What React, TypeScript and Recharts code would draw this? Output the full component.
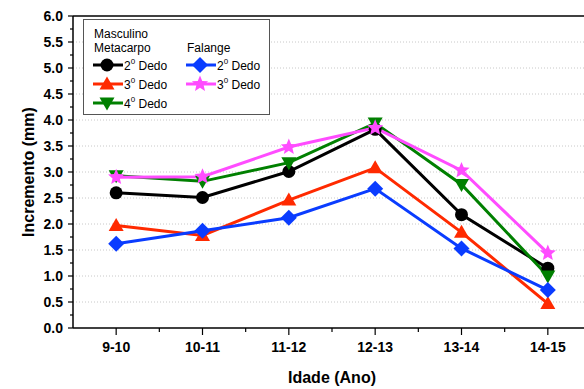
import React from "react";
import {
  LineChart,
  Line,
  XAxis,
  YAxis,
  CartesianGrid,
  ReferenceLine,
  Label
} from "recharts";

const ageGroups = ["9-10", "10-11", "11-12", "12-13", "13-14", "14-15"];
const metacarpo2 = [2.6, 2.51, 3.01, 3.82, 2.18, 1.15];
const metacarpo3 = [1.97, 1.78, 2.46, 3.08, 1.84, 0.47];
const metacarpo4 = [2.93, 2.82, 3.18, 3.94, 2.76, 1.0];
const falange2 = [1.62, 1.87, 2.12, 2.68, 1.53, 0.73];
const falange3 = [2.9, 2.91, 3.48, 3.85, 3.03, 1.44];

const yTicks = [0, 0.25, 0.5, 0.75, 1, 1.25, 1.5, 1.75, 2, 2.25, 2.5, 2.75, 3, 3.25, 3.5, 3.75, 4, 4.25, 4.5, 4.75, 5, 5.25, 5.5, 5.75, 6];
const gridValues = [0.5, 1, 1.5, 2, 2.5, 3, 3.5, 4, 4.5, 5, 5.5];
const xTicks = [1, 1.5, 2, 2.5, 3, 3.5, 4, 4.5, 5, 5.5, 6];

const data = ageGroups.map((g, i) => ({
  x: i + 1,
  idade: g,
  m2: metacarpo2[i],
  m3: metacarpo3[i],
  m4: metacarpo4[i],
  f2: falange2[i],
  f3: falange3[i]
}));

const FONT = "Arial, 'Liberation Sans', sans-serif";

const BLACK = "#000000";
const RED = "#ff2a00";
const GREEN = "#008000";
const BLUE = "#0a3cff";
const MAGENTA = "#ff4cff";

type Kind = "circle" | "up" | "down" | "diamond" | "star";

const starPath = (cx: number, cy: number, r: number) => {
  const pts: string[] = [];
  for (let i = 0; i < 10; i++) {
    const rad = i % 2 === 0 ? r : r * 0.45;
    const a = -Math.PI / 2 + (i * Math.PI) / 5;
    pts.push(`${cx + rad * Math.cos(a)},${cy + rad * Math.sin(a)}`);
  }
  return `M${pts.join("L")}Z`;
};

const Marker = ({ cx, cy, kind, color }: { cx: number; cy: number; kind: Kind; color: string }) => {
  if (kind === "circle") return <circle cx={cx} cy={cy} r={6.5} fill={color} />;
  if (kind === "up")
    return <path d={`M${cx},${cy - 7.5}L${cx + 7.5},${cy + 5.5}L${cx - 7.5},${cy + 5.5}Z`} fill={color} />;
  if (kind === "down")
    return <path d={`M${cx},${cy + 7.5}L${cx + 7.5},${cy - 5.5}L${cx - 7.5},${cy - 5.5}Z`} fill={color} />;
  if (kind === "diamond")
    return <path d={`M${cx},${cy - 8}L${cx + 8},${cy}L${cx},${cy + 8}L${cx - 8},${cy}Z`} fill={color} />;
  return <path d={starPath(cx, cy, 8.5)} fill={color} />;
};

const dotFor = (kind: Kind, color: string) => (p: any) => (
  <Marker key={`${kind}-${p.index}`} cx={p.cx} cy={p.cy} kind={kind} color={color} />
);

const YTick = (props: any) => {
  const { x, y, payload } = props;
  const major = Math.round(payload.value * 100) % 50 === 0;
  return (
    <g>
      <line x1={x - (major ? 5 : 3)} x2={x} y1={y} y2={y} stroke="#000" strokeWidth={1.2} />
      {major && (
        <text x={x - 10} y={y} dy={5} textAnchor="end" fontSize={14} fontWeight="bold" fontFamily={FONT} fill="#000">
          {payload.value.toFixed(1)}
        </text>
      )}
    </g>
  );
};

const XTick = (props: any) => {
  const { x, y, payload } = props;
  const major = Number.isInteger(payload.value);
  return (
    <g>
      <line x1={x} x2={x} y1={y} y2={y + (major ? 7 : 4)} stroke="#000" strokeWidth={1.2} />
      {major && (
        <text x={x} y={y + 24} textAnchor="middle" fontSize={14} fontWeight="bold" fontFamily={FONT} fill="#000">
          {ageGroups[payload.value - 1]}
        </text>
      )}
    </g>
  );
};

const Sup = ({ n }: { n: string }) => (
  <>
    {n}
    <tspan fontSize={8} dy={-6}>0</tspan>
    <tspan dy={6}> Dedo</tspan>
  </>
);

const legendLeft = [
  { label: "2", kind: "circle" as Kind, color: BLACK },
  { label: "3", kind: "up" as Kind, color: RED },
  { label: "4", kind: "down" as Kind, color: GREEN }
];
const legendRight = [
  { label: "2", kind: "diamond" as Kind, color: BLUE },
  { label: "3", kind: "star" as Kind, color: MAGENTA }
];

const LegendBox = () => (
  <svg width={188} height={97} style={{ display: "block" }}>
    <rect x={0.5} y={0.5} width={186} height={95} fill="#fff" stroke="#555" strokeWidth={1} />
    <g fontFamily={FONT} fontSize={12} fill="#000">
      <text x={11} y={19}>Masculino</text>
      <text x={11} y={33}>Metacarpo</text>
      <text x={104} y={33}>Falange</text>
      {legendLeft.map((it, i) => (
        <g key={`l${i}`}>
          <line x1={10} x2={40} y1={46 + i * 19} y2={46 + i * 19} stroke={it.color} strokeWidth={3} />
          <Marker cx={24} cy={46 + i * 19} kind={it.kind} color={it.color} />
          <text x={41} y={51 + i * 19}>
            <Sup n={it.label} />
          </text>
        </g>
      ))}
      {legendRight.map((it, i) => (
        <g key={`r${i}`}>
          <line x1={103} x2={133} y1={46 + i * 19} y2={46 + i * 19} stroke={it.color} strokeWidth={3} />
          <Marker cx={117} cy={46 + i * 19} kind={it.kind} color={it.color} />
          <text x={134} y={51 + i * 19}>
            <Sup n={it.label} />
          </text>
        </g>
      ))}
    </g>
  </svg>
);

const YTitle = () => (
  <text
    x={28}
    y={172}
    transform="rotate(-90, 28, 172)"
    textAnchor="middle"
    dominantBaseline="central"
    fontSize={16}
    fontWeight="bold"
    fontFamily={FONT}
    fill="#000"
  >
    Incremento (mm)
  </text>
);

const XTitle = () => (
  <text x={332} y={383} textAnchor="middle" fontSize={16} fontWeight="bold" fontFamily={FONT} fill="#000">
    Idade (Ano)
  </text>
);

export default function App() {
  return (
    <div
      style={{
        position: "absolute",
        left: 0,
        top: 0,
        width: 584,
        height: 389,
        overflow: "hidden",
        background: "#fff"
      }}
    >
      <LineChart width={600} height={389} data={data} margin={{ top: 16, right: 9, left: 0, bottom: 0 }}>
        <CartesianGrid
          horizontal
          vertical={false}
          horizontalValues={gridValues}
          stroke="#c8c8c8"
          strokeDasharray="1 2"
        />
        <XAxis
          dataKey="x"
          type="number"
          domain={[0.5, 6.5]}
          ticks={xTicks}
          tick={<XTick />}
          tickLine={false}
          tickSize={0}
          tickMargin={0}
          height={61}
          stroke="#000"
          strokeWidth={1.5}
          interval={0}
        >
          <Label content={<XTitle />} />
        </XAxis>
        <YAxis
          type="number"
          domain={[0, 6]}
          ticks={yTicks}
          tick={<YTick />}
          tickLine={false}
          tickSize={0}
          tickMargin={0}
          width={73}
          stroke="#000"
          strokeWidth={1.5}
          interval={0}
        >
          <Label content={<YTitle />} />
        </YAxis>
        <ReferenceLine y={6} stroke="#000" strokeWidth={1.5} />
        <Line dataKey="m2" stroke={BLACK} strokeWidth={3} dot={dotFor("circle", BLACK)} isAnimationActive={false} />
        <Line dataKey="m3" stroke={RED} strokeWidth={3} dot={dotFor("up", RED)} isAnimationActive={false} />
        <Line dataKey="m4" stroke={GREEN} strokeWidth={3} dot={dotFor("down", GREEN)} isAnimationActive={false} />
        <Line dataKey="f2" stroke={BLUE} strokeWidth={3} dot={dotFor("diamond", BLUE)} isAnimationActive={false} />
        <Line dataKey="f3" stroke={MAGENTA} strokeWidth={3} dot={dotFor("star", MAGENTA)} isAnimationActive={false} />
      </LineChart>
      <div style={{ position: "absolute", left: 83, top: 19, width: 188, height: 97 }}>
        <LegendBox />
      </div>
    </div>
  );
}
